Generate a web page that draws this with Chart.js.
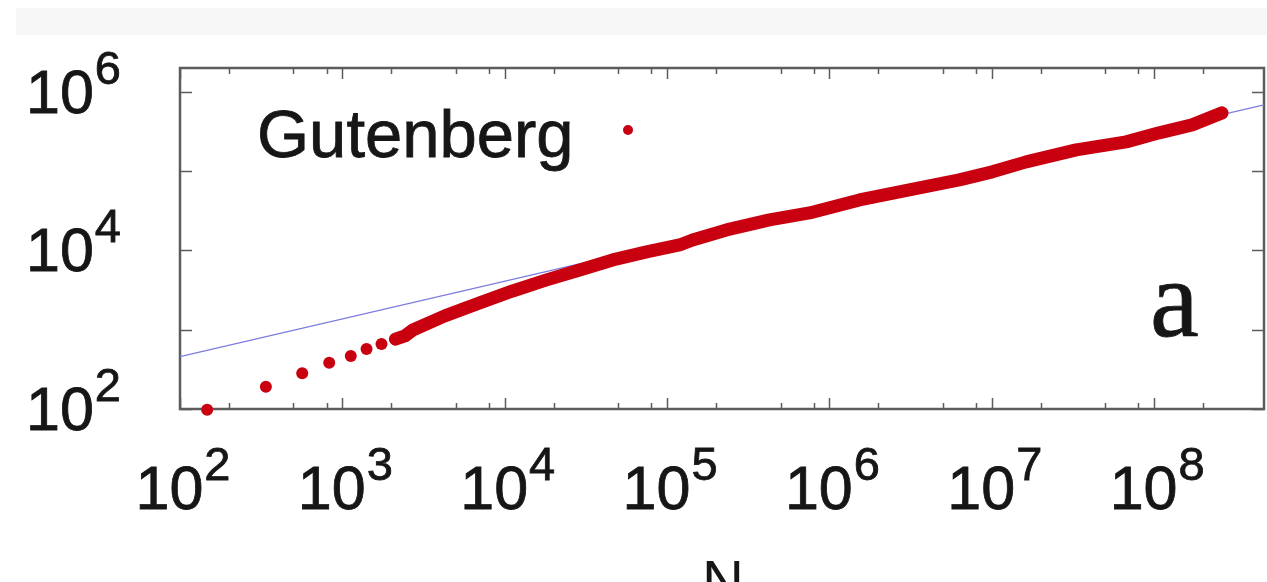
<!DOCTYPE html>
<html>
<head>
<meta charset="utf-8">
<title>Gutenberg vocabulary growth</title>
<script src="https://cdn.jsdelivr.net/npm/chart.js@4.4.1/dist/chart.umd.min.js"></script>
<style>
  html, body { margin: 0; padding: 0; background: #ffffff; overflow: hidden; }
  #wrap { position: relative; width: 1270px; height: 582px; }
  #heaps { filter: blur(0.4px); }
</style>
</head>
<body>
<div id="wrap"><canvas id="heaps"></canvas></div>
<script>
// Text length N (words read) and number of distinct words V for the Gutenberg corpus
const textLength = [147, 338, 566, 830, 1127, 1409, 1742, 2123, 2427, 2716, 4276, 7015,
  11190, 18110, 28970, 46240, 74820, 119400, 143500, 232300, 427500, 753600,
  1531000, 3105000, 6310000, 10070000, 16290000, 33110000, 67300000, 107400000,
  171400000, 262000000];
const vocabulary = [98, 191, 282, 384, 467, 571, 661, 759, 834, 993, 1493, 2178,
  3083, 4246, 5675, 7586, 9572, 11720, 13550, 18150, 24270, 29720,
  43350, 57940, 77620, 97960, 130900, 185400, 233900, 304300,
  383700, 543300];

// Power-law fit drawn across the whole range
const fitN = [100, 475000000];
const fitV = [457, 685000];

// Axis ranges and labelled decades
const xRange = [100, 475000000];
const yRange = [100, 2000000];
const xLabelExponents = [2, 3, 4, 5, 6, 7, 8];
const yLabelExponents = [2, 4, 6];
const yTickExponents = [2, 3, 4, 5, 6];
const xMinorMultipliers = [2, 5, 8];

const seriesName = 'Gutenberg';
const panelLetter = 'a';
const xTitle = 'N';

// index where the samples become dense enough to merge into a band
const bandStart = 7;

const RED = '#c8000f';
const BLUE = 'rgb(122,122,222)';
const AXIS = '#5c5c5c';
const INK = '#161616';
const SANS = '"Liberation Sans", Arial, Helvetica, sans-serif';
const SERIF = '"Liberation Serif", "Times New Roman", serif';

const points = textLength.map((n, i) => ({ x: n, y: vocabulary[i] }));
const fitPoints = fitN.map((n, i) => ({ x: n, y: fitV[i] }));

function drawPower(ctx, base, exp, x, y, align, baseSize, supSize, rise) {
  ctx.font = baseSize + 'px ' + SANS;
  const wb = ctx.measureText(base).width;
  ctx.font = supSize + 'px ' + SANS;
  const ws = ctx.measureText(exp).width;
  const total = wb + 1 + ws;
  let left = x;
  if (align === 'center') left = x - total / 2;
  if (align === 'right') left = x - total;
  ctx.textAlign = 'left';
  ctx.textBaseline = 'alphabetic';
  ctx.font = baseSize + 'px ' + SANS;
  ctx.fillText(base, left, y);
  ctx.strokeText(base, left, y);
  ctx.font = supSize + 'px ' + SANS;
  ctx.fillText(exp, left + wb + 1, y - rise);
  ctx.strokeText(exp, left + wb + 1, y - rise);
}

const framePlugin = {
  id: 'framePlugin',
  beforeDraw(chart) {
    const ctx = chart.ctx;
    ctx.save();
    ctx.fillStyle = '#f7f7f7';
    ctx.fillRect(16, 8, chart.width - 16, 27);
    ctx.restore();
  },
  beforeDatasetsDraw(chart) {
    const ctx = chart.ctx;
    const a = chart.chartArea;
    const xs = chart.scales.x, ys = chart.scales.y;
    ctx.save();
    ctx.strokeStyle = AXIS;
    ctx.lineWidth = 1.5;
    // x ticks on bottom and top edges, pointing inwards
    const xTicks = [];
    for (let e = 2; e <= 8; e++) {
      xTicks.push({ v: Math.pow(10, e), len: 11 });
      xMinorMultipliers.forEach(m => xTicks.push({ v: m * Math.pow(10, e), len: 6 }));
    }
    xTicks.forEach(t => {
      if (t.v < xRange[0] || t.v > xRange[1]) return;
      const px = Math.round(xs.getPixelForValue(t.v)) + 0.5;
      ctx.beginPath();
      ctx.moveTo(px, a.bottom); ctx.lineTo(px, a.bottom - t.len);
      ctx.moveTo(px, a.top); ctx.lineTo(px, a.top + t.len);
      ctx.stroke();
    });
    yTickExponents.forEach(e => {
      const py = Math.round(ys.getPixelForValue(Math.pow(10, e))) + 0.5;
      ctx.beginPath();
      ctx.moveTo(a.left, py); ctx.lineTo(a.left + 12, py);
      ctx.moveTo(a.right, py); ctx.lineTo(a.right - 12, py);
      ctx.stroke();
    });
    // plot border
    ctx.lineWidth = 2.5;
    ctx.strokeRect(a.left, a.top, a.right - a.left, a.bottom - a.top);

    // tick labels
    ctx.fillStyle = INK;
    ctx.strokeStyle = INK;
    ctx.lineWidth = 0.8;
    xLabelExponents.forEach(e => {
      const px = xs.getPixelForValue(Math.pow(10, e));
      drawPower(ctx, '10', String(e), px + 3, 509, 'center', 61, 47, 29);
    });
    yLabelExponents.forEach(e => {
      const py = ys.getPixelForValue(Math.pow(10, e));
      drawPower(ctx, '10', String(e), 121, py + 21, 'right', 61, 47, 29);
    });
    ctx.restore();
  },
  afterDatasetsDraw(chart) {
    const ctx = chart.ctx;
    ctx.save();
    ctx.fillStyle = INK;
    ctx.strokeStyle = INK;
    ctx.lineWidth = 0.8;
    ctx.textBaseline = 'alphabetic';
    // key
    ctx.font = '67px ' + SANS;
    ctx.textAlign = 'left';
    ctx.fillText(seriesName, 257, 157);
    ctx.strokeText(seriesName, 257, 157);
    ctx.fillStyle = RED;
    ctx.beginPath();
    ctx.arc(628, 130, 5, 0, Math.PI * 2);
    ctx.fill();
    // panel letter
    ctx.fillStyle = INK;
    ctx.font = '110px ' + SERIF;
    ctx.fillText(panelLetter, 1150, 336);
    ctx.strokeText(panelLetter, 1150, 336);
    // axis title
    ctx.font = '58px ' + SANS;
    ctx.textAlign = 'center';
    ctx.fillText(xTitle, 723, 601);
    ctx.restore();
  }
};

new Chart(document.getElementById('heaps'), {
  type: 'scatter',
  data: {
    datasets: [
      {
        label: seriesName,
        data: points,
        order: 0,
        showLine: true,
        borderColor: RED,
        borderWidth: 13,
        borderCapStyle: 'round',
        borderJoinStyle: 'round',
        tension: 0,
        segment: {
          borderColor: c => (c.p0DataIndex < bandStart ? 'rgba(0,0,0,0)' : RED)
        },
        pointRadius: 6,
        pointBorderWidth: 0,
        pointBackgroundColor: RED,
        clip: false
      },
      {
        label: 'fit',
        data: fitPoints,
        order: 1,
        showLine: true,
        borderColor: BLUE,
        borderWidth: 1.2,
        pointRadius: 0,
        tension: 0
      }
    ]
  },
  options: {
    responsive: true,
    maintainAspectRatio: false,
    devicePixelRatio: 1,
    animation: false,
    events: [],
    layout: { padding: { left: 180, right: 2, top: 68, bottom: 173 } },
    plugins: { legend: { display: false }, tooltip: { enabled: false } },
    scales: {
      x: { type: 'logarithmic', min: xRange[0], max: xRange[1], display: false },
      y: { type: 'logarithmic', min: yRange[0], max: yRange[1], display: false }
    }
  },
  plugins: [framePlugin]
});
</script>
</body>
</html>
